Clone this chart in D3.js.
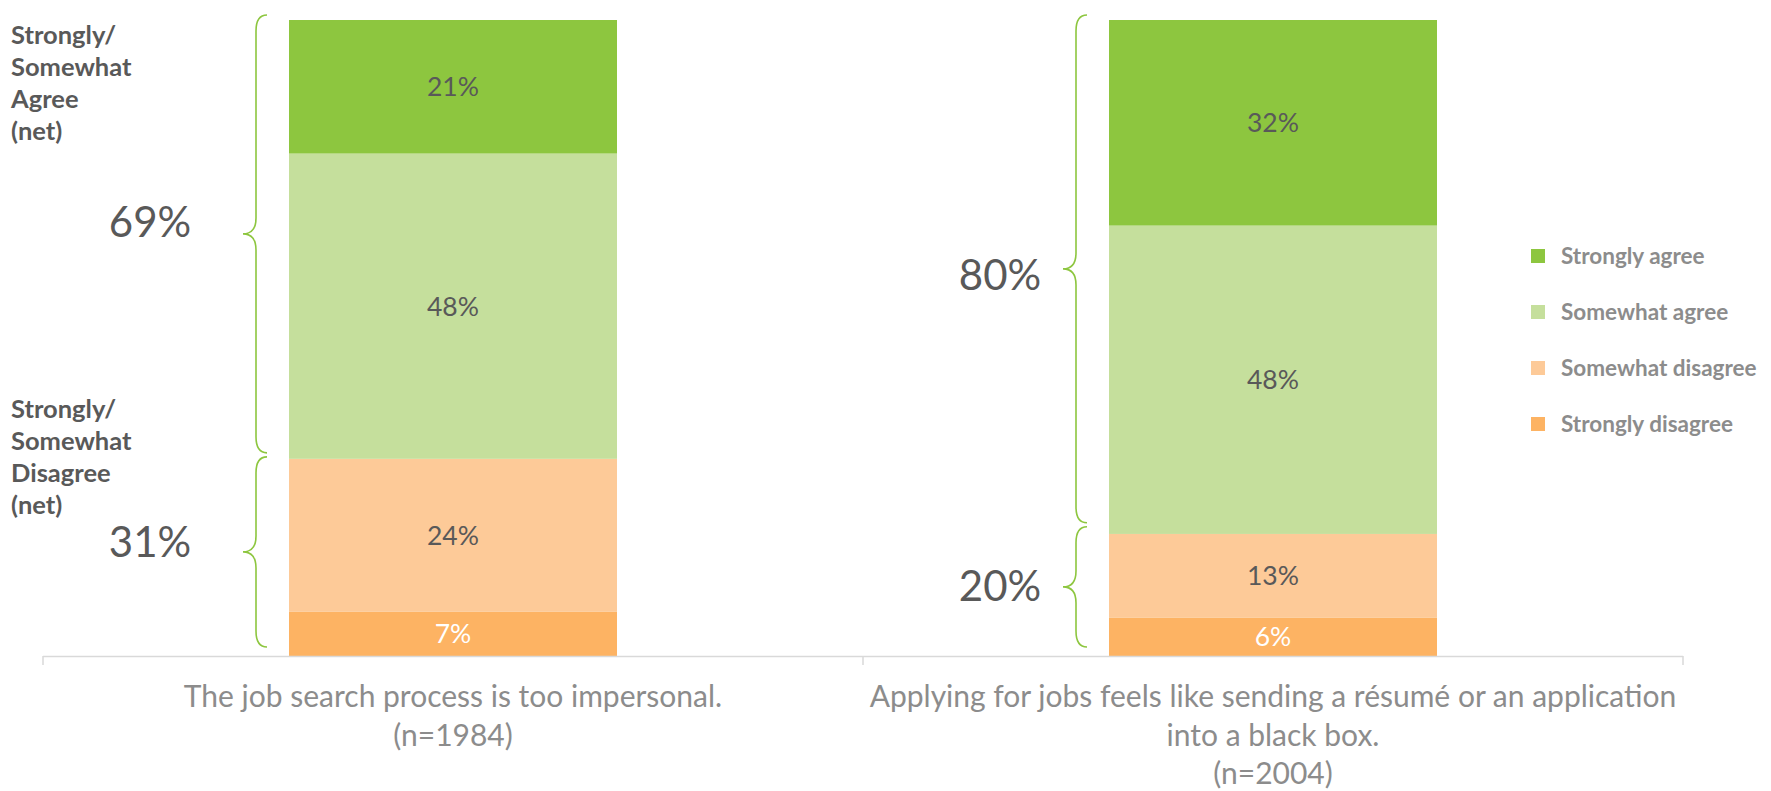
<!DOCTYPE html>
<html>
<head>
<meta charset="utf-8">
<script src="https://cdn.jsdelivr.net/npm/d3@7"></script>
<style>
  body { margin: 0; background: #fff; }
  svg text { font-family: Lato, "Open Sans", sans-serif; }
</style>
</head>
<body>
<div id="chart"></div>
<script>
// data
const categories = ["impersonal", "blackbox"];
const categoryLabels = [
    ["The job search process is too impersonal.", "(n=1984)"],
    ["Applying for jobs feels like sending a résumé or an application", "into a black box.", "(n=2004)"]
];
const seriesNames = ["Strongly disagree", "Somewhat disagree", "Somewhat agree", "Strongly agree"];
const stronglyDisagree = [7, 6];
const somewhatDisagree = [24, 13];
const somewhatAgree = [48, 48];
const stronglyAgree = [21, 32];
const netAgree = [69, 80];
const netDisagree = [31, 20];
const agreeLabel = ["Strongly/", "Somewhat", "Agree", "(net)"];
const disagreeLabel = ["Strongly/", "Somewhat", "Disagree", "(net)"];

const colors = {
    "Strongly agree": "#8dc63f",
    "Somewhat agree": "#c5df9c",
    "Somewhat disagree": "#fdca98",
    "Strongly disagree": "#fdb363"
};

const width = 1771, height = 791;

const rows = categories.map((c, i) => ({
    cat: c,
    "Strongly disagree": stronglyDisagree[i],
    "Somewhat disagree": somewhatDisagree[i],
    "Somewhat agree": somewhatAgree[i],
    "Strongly agree": stronglyAgree[i]
}));

const svg = d3.select("#chart").append("svg")
    .attr("width", width)
    .attr("height", height);

const x = d3.scaleBand()
    .domain(categories)
    .range([43, 1683])
    .paddingInner(0.6)
    .paddingOuter(0.3);

const y = d3.scaleLinear().domain([0, 1]).range([656, 20]);

// stacked bars, normalised to 100%
const stacked = d3.stack().keys(seriesNames).offset(d3.stackOffsetExpand)(rows);

const layers = svg.append("g").selectAll("g")
    .data(stacked)
    .enter().append("g")
    .attr("fill", d => colors[d.key]);

layers.selectAll("rect")
    .data(d => d)
    .enter().append("rect")
    .attr("x", d => x(d.data.cat))
    .attr("width", x.bandwidth())
    .attr("y", d => y(d[1]))
    .attr("height", d => y(d[0]) - y(d[1]));

// value labels
stacked.forEach(layer => {
    svg.append("g").selectAll("text")
        .data(layer)
        .enter().append("text")
        .attr("x", d => x(d.data.cat) + x.bandwidth() / 2)
        .attr("y", d => (y(d[0]) + y(d[1])) / 2)
        .attr("dy", "0.36em")
        .attr("text-anchor", "middle")
        .attr("font-size", 26.5)
        .attr("fill", layer.key === "Strongly disagree" ? "#ffffff" : "#595959")
        .text(d => d.data[layer.key] + "%");
});

// category axis
const step = x.step();
const x0 = x.range()[0];
const axis = svg.append("g").attr("stroke", "#d9d9d9").attr("stroke-width", 1.5);
axis.append("line")
    .attr("x1", x0).attr("x2", x.range()[1])
    .attr("y1", y(0) + 0.5).attr("y2", y(0) + 0.5);
d3.range(categories.length + 1).forEach(i => {
    axis.append("line")
        .attr("x1", x0 + i * step).attr("x2", x0 + i * step)
        .attr("y1", y(0)).attr("y2", y(0) + 9);
});

categories.forEach((c, i) => {
    const t = svg.append("text")
        .attr("text-anchor", "middle")
        .attr("font-size", 30)
        .attr("fill", "#8c8c8c");
    categoryLabels[i].forEach((line, j) => {
        t.append("tspan")
            .attr("x", x(c) + x.bandwidth() / 2)
            .attr("y", 707 + j * 38.5)
            .text(line);
    });
});

// braces for net values
function bracePath(xl, y0, y1, w, tip) {
    const ym = (y0 + y1) / 2, r = 16;
    return `M${xl + w},${y0} Q${xl},${y0} ${xl},${y0 + r} L${xl},${ym - r} ` +
        `Q${xl},${ym} ${xl - tip},${ym} Q${xl},${ym} ${xl},${ym + r} ` +
        `L${xl},${y1 - r} Q${xl},${y1} ${xl + w},${y1}`;
}

const netLabelX = [150, 1000];
const netLabelDy = [-12, 6];

categories.forEach((c, i) => {
    const xl = x(c) - 33;
    const spans = [
        [y(1) - 5, y(netDisagree[i] / 100) - 6, netAgree[i]],
        [y(netDisagree[i] / 100) - 2, y(0) - 9, netDisagree[i]]
    ];
    spans.forEach(([y0, y1, v], k) => {
        svg.append("path")
            .attr("d", bracePath(xl, y0, y1, 11, 13))
            .attr("fill", "none")
            .attr("stroke", "#8dc63f")
            .attr("stroke-width", 1.6);
        svg.append("text")
            .attr("x", netLabelX[i])
            .attr("y", (y0 + y1) / 2 + (k === 0 ? netLabelDy[i] : netLabelDy[i] / 2 - 4))
            .attr("dy", "0.36em")
            .attr("text-anchor", "middle")
            .attr("font-size", 42)
            .attr("fill", "#595959")
            .text(v + "%");
    });
});

// net group labels
[[agreeLabel, 44], [disagreeLabel, 418]].forEach(([lines, top]) => {
    const t = svg.append("text")
        .attr("font-size", 25.5)
        .attr("font-weight", "bold")
        .attr("fill", "#595959");
    lines.forEach((line, j) => {
        t.append("tspan").attr("x", 11).attr("y", top + j * 32).text(line);
    });
});

// legend
const legendKeys = seriesNames.slice().reverse();
const legend = svg.append("g").selectAll("g")
    .data(legendKeys)
    .enter().append("g")
    .attr("transform", (d, i) => `translate(1531, ${256 + i * 56})`);
legend.append("rect")
    .attr("x", 0).attr("y", -7)
    .attr("width", 14).attr("height", 14)
    .attr("fill", d => colors[d]);
legend.append("text")
    .attr("x", 30)
    .attr("dy", "0.36em")
    .attr("font-size", 22.5)
    .attr("font-weight", "bold")
    .attr("fill", "#8c8c8c")
    .text(d => d);
</script>
</body>
</html>
